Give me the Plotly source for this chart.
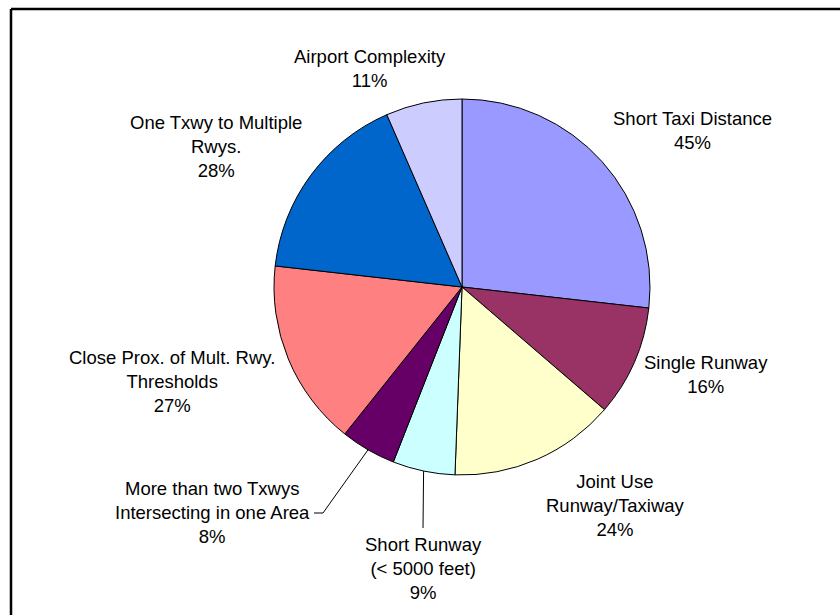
import math
import plotly.graph_objects as go

# ---- data ----
categories = [
    "Short Taxi Distance",
    "Single Runway",
    "Joint Use\nRunway/Taxiway",
    "Short Runway\n(< 5000 feet)",
    "More than two Txwys\nIntersecting in one Area",
    "Close Prox. of Mult. Rwy.\nThresholds",
    "One Txwy to Multiple\nRwys.",
    "Airport Complexity",
]
values = [45, 16, 24, 9, 8, 27, 28, 11]
colors = ["#9999FF", "#993366", "#FFFFCC", "#CCFFFF", "#660066", "#FF8080", "#0066CC", "#CCCCFF"]

# ---- layout geometry (pixels) ----
W, H = 840, 615
CX, CY, R = 462, 287, 188
# label block centres (pixels)
label_pos = [(692, 130), (706, 374), (615, 505), (423, 568),
             (212, 512), (172, 381), (216, 146), (370, 68)]
# leader line label-side points (pixels), None = no leader
leader_ends = [None, None, None, [(423, 528)], [(323, 513), (314, 513)], None, None, None]

def px(x):
    return x / W

def py(y):
    return 1 - y / H

FONT = "Liberation Sans, Arial, sans-serif"

fig = go.Figure(go.Pie(
    labels=[c.replace("\n", " ") for c in categories],
    values=values,
    sort=False,
    direction="clockwise",
    rotation=0,
    marker=dict(colors=colors, line=dict(color="black", width=1)),
    textinfo="none",
    hoverinfo="label+value",
    showlegend=False,
    domain=dict(x=[px(CX - R), px(CX + R)], y=[py(CY + R), py(CY - R)]),
))

annotations = []
for cat, val, (lx, ly) in zip(categories, values, label_pos):
    txt = cat.replace("<", "&lt;").replace("\n", "<br>") + f"<br>{val}%"
    annotations.append(dict(
        x=px(lx), y=py(ly), xref="paper", yref="paper",
        text=txt, showarrow=False, align="center",
        xanchor="center", yanchor="middle",
        font=dict(family=FONT, size=18.5, color="black"),
    ))

shapes = []
total = sum(values)
cum = 0
for v, ends in zip(values, leader_ends):
    mid = (cum + v / 2) / total * 2 * math.pi
    cum += v
    if not ends:
        continue
    ex = CX + R * math.sin(mid)
    ey = CY - R * math.cos(mid)
    pts = [(ex, ey)] + ends
    path = "M " + " L ".join(f"{px(a)},{py(b)}" for a, b in pts)
    shapes.append(dict(type="path", path=path, xref="paper", yref="paper",
                       line=dict(color="black", width=1)))

# chart frame (only top and left edges visible in the crop)
frame = dict(color="black", width=2.5)
shapes.append(dict(type="line", xref="paper", yref="paper",
                   x0=px(11), y0=py(9), x1=1.0, y1=py(9), line=frame))
shapes.append(dict(type="line", xref="paper", yref="paper",
                   x0=px(11), y0=py(9), x1=px(11), y1=0.0, line=frame))

fig.update_layout(
    width=W, height=H,
    margin=dict(l=0, r=0, t=0, b=0),
    paper_bgcolor="white", plot_bgcolor="white",
    annotations=annotations, shapes=shapes,
    showlegend=False,
)

fig.write_html(
    "out.html",
    config={"displayModeBar": False},
    post_script="document.body.style.margin='0';document.body.style.overflow='hidden';",
)
